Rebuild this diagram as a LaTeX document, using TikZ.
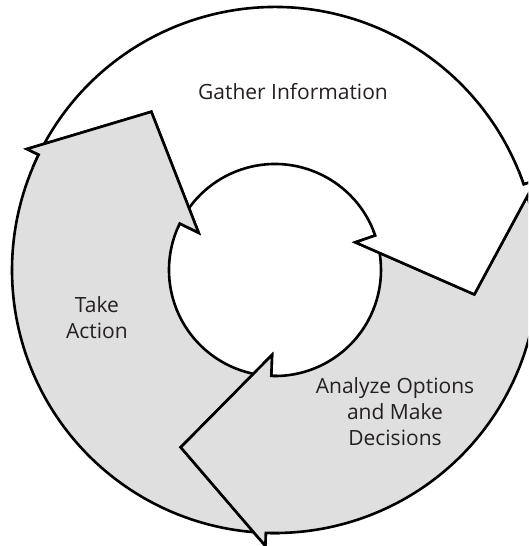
\documentclass[tikz,border=0pt]{standalone}
\usepackage{fontspec}
\setmainfont{Open Sans}
\usepackage{tikz}
\definecolor{lightGray}{gray}{0.875}
\definecolor{inkBlack}{rgb}{0.14, 0.12, 0.13}
\usetikzlibrary{calc}

\begin{document}
\begin{tikzpicture}[x=1pt, y=1pt, line width=2.6pt, line join=miter,
        ringText/.style={align=center, text=inkBlack, font=\fontsize{21}{26}\selectfont}]
        \useasboundingbox (-275, -276) rectangle (253, 270);
        \clip (-275, -276) rectangle (253, 270);

        % arrow tips
        \coordinate (gatherTip)  at ($(19:180.5)+(-71:88)$);
        \coordinate (analyzeTip) at ($(-92:180.5)+(178:88)$);
        \coordinate (actionTip)  at ($(154:180.5)+(64:88)$);

        % ring segments
        \fill[white]     (154:263) arc[start angle=154, end angle=19, radius=263] -- (19:276) -- (gatherTip) -- (19:85) -- (19:106) arc[start angle=19, end angle=154, radius=106] -- cycle;
        \fill[lightGray] (19:263) arc[start angle=19, end angle=-92, radius=263] -- (-92:276) -- (analyzeTip) -- (-92:85) -- (-92:106) arc[start angle=-92, end angle=19, radius=106] -- cycle;
        \fill[lightGray] (268:263) arc[start angle=268, end angle=154, radius=263] -- (154:276) -- (actionTip) -- (154:85) -- (154:106) arc[start angle=154, end angle=268, radius=106] -- cycle;

        \draw (154:263) arc[start angle=154, end angle=19, radius=263] -- (19:276) -- (gatherTip) -- (19:85) -- (19:106) arc[start angle=19, end angle=154, radius=106];
        \draw (19:263) arc[start angle=19, end angle=-92, radius=263] -- (-92:276) -- (analyzeTip) -- (-92:85) -- (-92:106) arc[start angle=-92, end angle=19, radius=106];
        \draw (268:263) arc[start angle=268, end angle=154, radius=263] -- (154:276) -- (actionTip) -- (154:85) -- (154:106) arc[start angle=154, end angle=268, radius=106];

        % heads again, over the tails
        \filldraw[fill=white]     (22:263) arc[start angle=22, end angle=19, radius=263] -- (19:276) -- (gatherTip) -- (19:85) -- (19:106) arc[start angle=19, end angle=22, radius=106];
        \filldraw[fill=lightGray] (-89:263) arc[start angle=-89, end angle=-92, radius=263] -- (-92:276) -- (analyzeTip) -- (-92:85) -- (-92:106) arc[start angle=-92, end angle=-89, radius=106];
        \filldraw[fill=lightGray] (157:263) arc[start angle=157, end angle=154, radius=263] -- (154:276) -- (actionTip) -- (154:85) -- (154:106) arc[start angle=154, end angle=157, radius=106];

        \node[ringText] (gather)  at (18, 178)     {Gather Information};
        \node[ringText] (analyze) at (120, -142)   {Analyze Options\\and Make\\Decisions};
        \node[ringText] (action)  at (-178, -47.5) {Take\\Action};
    \end{tikzpicture}
\end{document}
